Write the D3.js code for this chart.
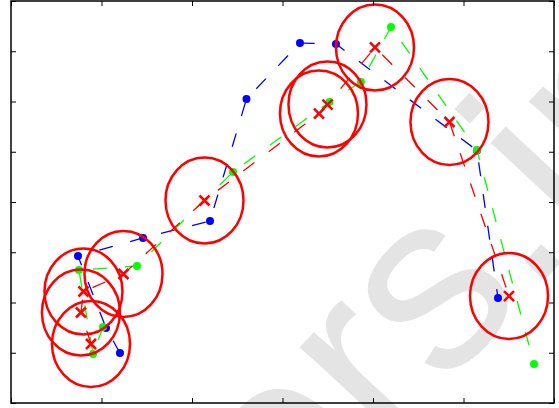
<!DOCTYPE html>
<html>
<head>
<meta charset="utf-8">
<script src="https://cdn.jsdelivr.net/npm/d3@7"></script>
<style>
  html, body { margin: 0; padding: 0; background: #fff; }
  svg { display: block; }
</style>
</head>
<body>
<div id="chart"></div>
<script>
// ---- data (data units) ----
const xTicks = [0, 1, 2, 3, 4, 5, 6];
const yTicks = [0, 1, 2, 3, 4, 5, 6, 7, 8];

const measuredX = [1.204, 1.050, 0.740, 1.459, 2.199, 2.602, 3.193, 3.591, 5.149, 5.381];
const measuredY = [0.995, 1.493, 2.925, 3.284, 3.622, 6.050, 7.164, 7.144, 5.025, 2.090];

const trueX = [1.017, 0.906, 0.751, 1.392, 2.453, 3.519, 3.867, 4.199, 5.149, 5.779];
const trueY = [1.512, 0.975, 2.647, 2.726, 4.597, 5.990, 6.388, 7.483, 5.035, 0.776];

const estX = [0.884, 0.773, 0.801, 1.243, 2.138, 3.403, 3.497, 4.022, 4.845, 5.503];
const estY = [1.174, 1.801, 2.219, 2.567, 4.030, 5.761, 5.940, 7.075, 5.592, 2.129];

// uncertainty ellipse semi-axes (data units)
const sigmaX = [0.431, 0.431, 0.431, 0.431, 0.431, 0.431, 0.431, 0.431, 0.431, 0.431];
const sigmaY = [0.856, 0.856, 0.856, 0.856, 0.856, 0.856, 0.856, 0.856, 0.856, 0.856];

const watermarkText = "ers.in";

// ---- drawing ----
const W = 559, H = 408;
const svg = d3.select("#chart").append("svg").attr("width", W).attr("height", H);

const x = d3.scaleLinear().domain([0, 6]).range([11, 554]);
const y = d3.scaleLinear().domain([0, 8]).range([403, 1]);

// watermark
svg.append("text")
  .attr("transform", "translate(290,553) rotate(-47)")
  .attr("font-family", "Liberation Sans, Arial, sans-serif")
  .attr("font-size", 252)
  .attr("fill", "#e4e4e4")
  .text(watermarkText);

const zip = (xs, ys) => xs.map((v, i) => [v, ys[i]]);
const blue = zip(measuredX, measuredY);
const green = zip(trueX, trueY);
const red = zip(estX, estY);

const line = d3.line().x(d => x(d[0])).y(d => y(d[1]));

function series(data, color) {
  svg.append("path")
    .attr("d", line(data))
    .attr("fill", "none")
    .attr("stroke", color)
    .attr("stroke-width", 1.3)
    .attr("stroke-dasharray", "14,18");
}
series(blue, "#0000ff");
svg.selectAll("circle.blue").data(blue).enter().append("circle")
  .attr("class", "blue")
  .attr("cx", d => x(d[0])).attr("cy", d => y(d[1])).attr("r", 4)
  .attr("fill", "#0000ff");

series(green, "#00ff00");
svg.selectAll("circle.green").data(green).enter().append("circle")
  .attr("class", "green")
  .attr("cx", d => x(d[0])).attr("cy", d => y(d[1])).attr("r", 4)
  .attr("fill", "#00ff00");

series(red, "#ff0000");

// uncertainty ellipses
svg.selectAll("ellipse.err").data(red).enter().append("ellipse")
  .attr("class", "err")
  .attr("cx", d => x(d[0])).attr("cy", d => y(d[1]))
  .attr("rx", (d, i) => x(sigmaX[i]) - x(0))
  .attr("ry", (d, i) => y(0) - y(sigmaY[i]))
  .attr("fill", "none")
  .attr("stroke", "#ff0000")
  .attr("stroke-width", 2.5);

// x markers
const s = 5;
svg.selectAll("path.xm").data(red).enter().append("path")
  .attr("class", "xm")
  .attr("d", d => {
    const cx = x(d[0]), cy = y(d[1]);
    return `M${cx - s},${cy - s}L${cx + s},${cy + s}M${cx - s},${cy + s}L${cx + s},${cy - s}`;
  })
  .attr("stroke", "#ff0000")
  .attr("stroke-width", 2.5)
  .attr("fill", "none");

// axes: inward ticks, no labels, on all four sides
const tick = 5;
function styleAxis(g) {
  g.select(".domain").remove();
  g.selectAll(".tick line").attr("stroke", "#000").attr("stroke-width", 1);
  g.selectAll(".tick text").remove();
}
svg.append("g").attr("transform", `translate(0,${y(0)})`)
  .call(d3.axisBottom(x).tickValues(xTicks).tickSize(-tick).tickFormat(""))
  .call(styleAxis);
svg.append("g").attr("transform", `translate(0,${y(8)})`)
  .call(d3.axisTop(x).tickValues(xTicks).tickSize(-tick).tickFormat(""))
  .call(styleAxis);
svg.append("g").attr("transform", `translate(${x(0)},0)`)
  .call(d3.axisLeft(y).tickValues(yTicks).tickSize(-tick).tickFormat(""))
  .call(styleAxis);
svg.append("g").attr("transform", `translate(${x(6)},0)`)
  .call(d3.axisRight(y).tickValues(yTicks).tickSize(-tick).tickFormat(""))
  .call(styleAxis);

// frame
svg.append("rect")
  .attr("x", x(0)).attr("y", y(8))
  .attr("width", x(6) - x(0)).attr("height", y(0) - y(8))
  .attr("fill", "none").attr("stroke", "#000").attr("stroke-width", 1.5);
</script>
</body>
</html>
